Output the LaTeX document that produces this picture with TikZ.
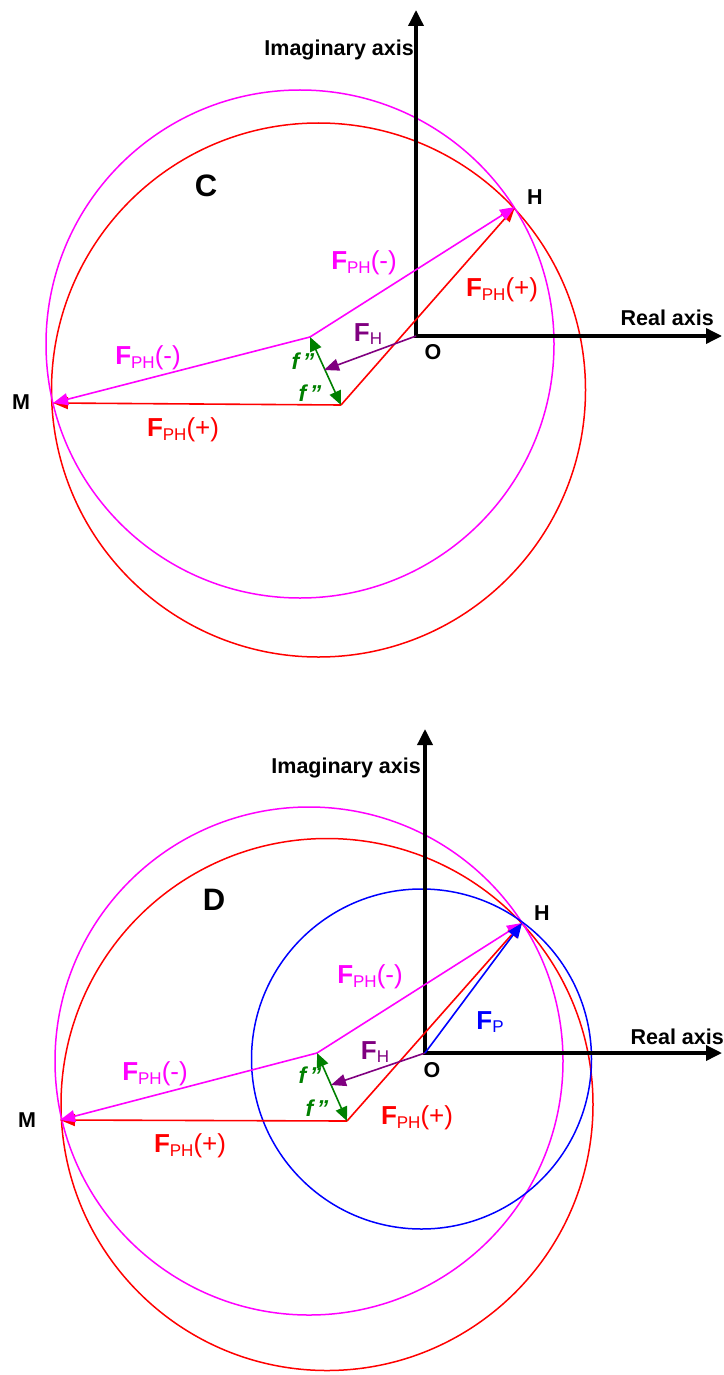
\documentclass[tikz,border=0pt]{standalone}
\usepackage{fontspec}
\setmainfont{Liberation Sans}
\usetikzlibrary{arrows.meta}
\definecolor{mag}{RGB}{255,0,255}
\definecolor{rd}{RGB}{255,0,0}
\definecolor{pur}{RGB}{128,0,128}
\definecolor{grn}{RGB}{0,128,0}
\definecolor{blu}{RGB}{0,0,255}
\newcommand{\Fv}[2]{\textbf{F}{\fontsize{17}{17}\selectfont\raisebox{-3.5pt}{#1}}#2}
\begin{document}
\begin{tikzpicture}[x=1pt,y=-1pt,
  vec/.style={line width=1.6pt,-{Triangle[length=15pt,width=12pt]}},
  dvec/.style={line width=1.6pt,{Triangle[length=14pt,width=12pt]}-{Triangle[length=14pt,width=12pt]}},
  axes/.style={line width=3.5pt,{Triangle[length=16pt,width=15pt]}-{Triangle[length=16pt,width=15pt]}},
  circ/.style={line width=1.5pt},
  lab/.style={font=\fontsize{21.5}{23}\selectfont\bfseries,inner sep=0pt},
  big/.style={font=\fontsize{31}{33}\selectfont\bfseries,inner sep=0pt},
  flab/.style={font=\fontsize{26}{28}\selectfont,inner sep=0pt},
  flab2/.style={font=\fontsize{23}{24}\selectfont\bfseries\itshape,text=grn,inner sep=0pt}]
\useasboundingbox (0,0) rectangle (723,1375);
% ================= Panel C =================
\coordinate (O1) at (416,336);
\coordinate (Y1) at (416,10);
\coordinate (X1) at (722,336);
\coordinate (H1) at (515,207);
\coordinate (M1) at (53,403);
\coordinate (A1) at (310,337);
\coordinate (B1) at (341,405);
\coordinate (Q1) at (324,370);
\draw[rd,circ] (318.5,390) circle[radius=267pt];
\draw[mag,circ] (300,344) circle[radius=254pt];
\draw[axes] (Y1) -- (O1) -- (X1);
\draw[vec,rd] (B1) -- (H1);
\draw[vec,rd] (B1) -- (M1);
\draw[vec,mag] (A1) -- (H1);
\draw[vec,mag] (A1) -- (M1);
\draw[dvec,grn] (A1) -- (B1);
\draw[vec,pur] (O1) -- (Q1);
\node[big] (lC) at (206,186) {C};
\node[lab] (lH1) at (535,197) {H};
\node[lab] (lO1) at (433,352) {O};
\node[lab] (lM1) at (21,402) {M};
\node[lab,anchor=east] (lIm1) at (414,50) {Imaginary axis};
\node[lab,anchor=east] (lRe1) at (714,318) {Real axis};
\node[flab,text=mag] (lpm1) at (364,263) {\Fv{PH}{(-)}};
\node[flab,text=rd] (lpp1) at (502,290) {\Fv{PH}{(+)}};
\node[flab,text=pur] (lfh1) at (368,334) {\Fv{H}{}};
\node[flab,text=mag] (lpm1b) at (148,358) {\Fv{PH}{(-)}};
\node[flab,text=rd] (lpp1b) at (183,430) {\Fv{PH}{(+)}};
\node[flab2] (lf1a) at (303,361) {f\,''};
\node[flab2] (lf1b) at (310,393) {f\,''};
% ================= Panel D =================
\coordinate (O2) at (425,1053);
\coordinate (Y2) at (425,729);
\coordinate (X2) at (722,1053);
\coordinate (H2) at (522,923);
\coordinate (M2) at (60,1120);
\coordinate (A2) at (317,1053);
\coordinate (B2) at (347,1121);
\coordinate (Q2) at (331,1085);
\draw[rd,circ] (327,1104.5) circle[radius=266pt];
\draw[mag,circ] (309,1061) circle[radius=254pt];
\draw[blu,circ] (421.5,1059) circle[radius=170pt];
\draw[axes] (Y2) -- (O2) -- (X2);
\draw[vec,rd] (B2) -- (H2);
\draw[vec,rd] (B2) -- (M2);
\draw[vec,mag] (A2) -- (H2);
\draw[vec,mag] (A2) -- (M2);
\draw[dvec,grn] (A2) -- (B2);
\draw[vec,pur] (O2) -- (Q2);
\draw[vec,blu] (O2) -- (H2);
\node[big] (lD) at (214,900) {D};
\node[lab] (lH2) at (542,913) {H};
\node[lab] (lO2) at (432,1070) {O};
\node[lab] (lM2) at (27,1120) {M};
\node[lab,anchor=east] (lIm2) at (421,768) {Imaginary axis};
\node[lab,anchor=east] (lRe2) at (724,1037) {Real axis};
\node[flab,text=mag] (lpm2) at (370,977) {\Fv{PH}{(-)}};
\node[flab,text=blu] (lfp2) at (490,1022) {\Fv{P}{}};
\node[flab,text=pur] (lfh2) at (375,1052) {\Fv{H}{}};
\node[flab,text=rd] (lpp2) at (417,1118) {\Fv{PH}{(+)}};
\node[flab,text=mag] (lpm2b) at (155,1074) {\Fv{PH}{(-)}};
\node[flab,text=rd] (lpp2b) at (190,1146) {\Fv{PH}{(+)}};
\node[flab2] (lf2a) at (310,1075) {f\,''};
\node[flab2] (lf2b) at (317,1108) {f\,''};
\end{tikzpicture}
\end{document}
